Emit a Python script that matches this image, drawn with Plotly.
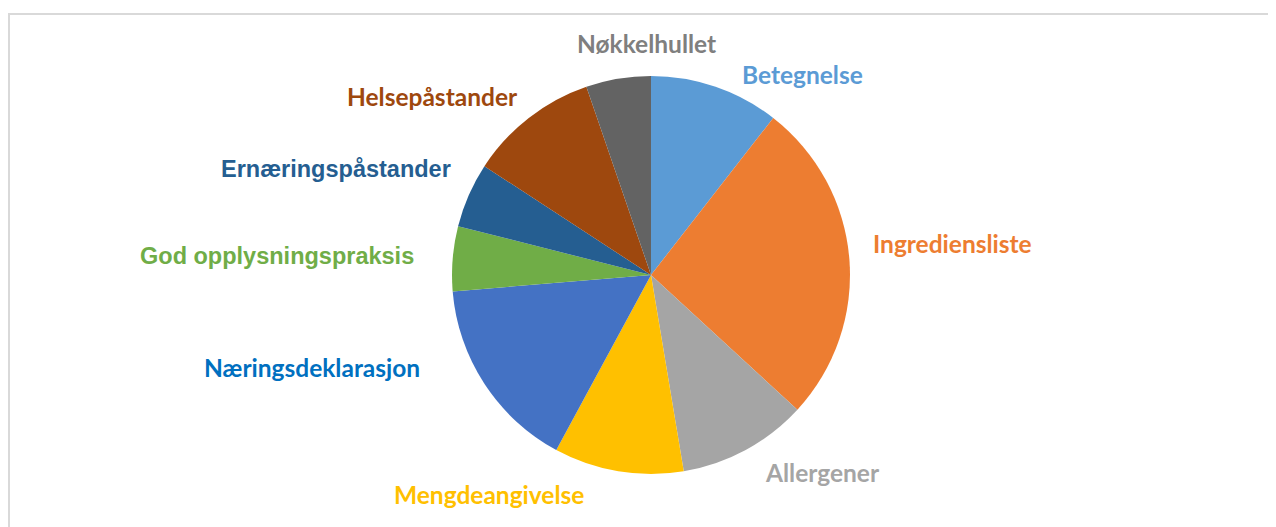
import plotly.graph_objects as go

categories = ["Betegnelse", "Ingrediensliste", "Allergener", "Mengdeangivelse",
              "Næringsdeklarasjon", "God opplysningspraksis", "Ernæringspåstander",
              "Helsepåstander", "Nøkkelhullet"]
values = [2, 5, 2, 2, 3, 1, 1, 2, 1]
slice_colors = ["#5B9BD5", "#ED7D31", "#A5A5A5", "#FFC000", "#4472C4",
                "#70AD47", "#255E91", "#9E480E", "#636363"]
label_colors = ["#5B9BD5", "#ED7D31", "#A5A5A5", "#FFC000", "#0070C0",
                "#70AD47", "#255E91", "#9E480E", "#7F7F7F"]
# label centre positions (pixels in the browser window)
label_px = [(803, 74), (952, 244), (822, 472), (489, 494), (312, 367),
            (277, 256), (336, 169), (432, 96), (646, 43)]
label_fonts = ["Lato", "Lato", "Lato", "Lato", "Lato",
               "Liberation Sans", "Liberation Sans", "Lato", "Lato"]

W, H = 1276, 527
OFF = 8  # default page body margin
cx, cy, r = 651 - OFF, 275 - OFF, 199

fig = go.Figure(go.Pie(
    labels=categories, values=values, sort=False, direction="clockwise",
    rotation=0, textinfo="none", hoverinfo="label+value",
    marker=dict(colors=slice_colors, line=dict(width=0)),
    domain=dict(x=[(cx - 300) / W, (cx + 300) / W],
                y=[(H - cy - r) / H, (H - cy + r) / H]),
    showlegend=False,
))

for lab, col, (px, py), fam in zip(categories, label_colors, label_px, label_fonts):
    size = 23.5 if fam == "Liberation Sans" else 24.5
    fig.add_annotation(x=(px - OFF) / W, y=1 - (py - OFF) / H, xref="paper", yref="paper",
                       text=f"<b>{lab}</b>", showarrow=False,
                       font=dict(family=fam, size=size, color=col),
                       xanchor="center", yanchor="middle")

fig.add_shape(type="rect", xref="paper", yref="paper",
              x0=(9 - OFF) / W, x1=1.02, y0=-0.1, y1=1 - (14 - OFF) / H,
              line=dict(color="#D9D9D9", width=2), layer="below")

fig.update_layout(width=W, height=H, margin=dict(l=0, r=0, t=0, b=0),
                  paper_bgcolor="white", plot_bgcolor="white")
fig.write_html("out.html")
